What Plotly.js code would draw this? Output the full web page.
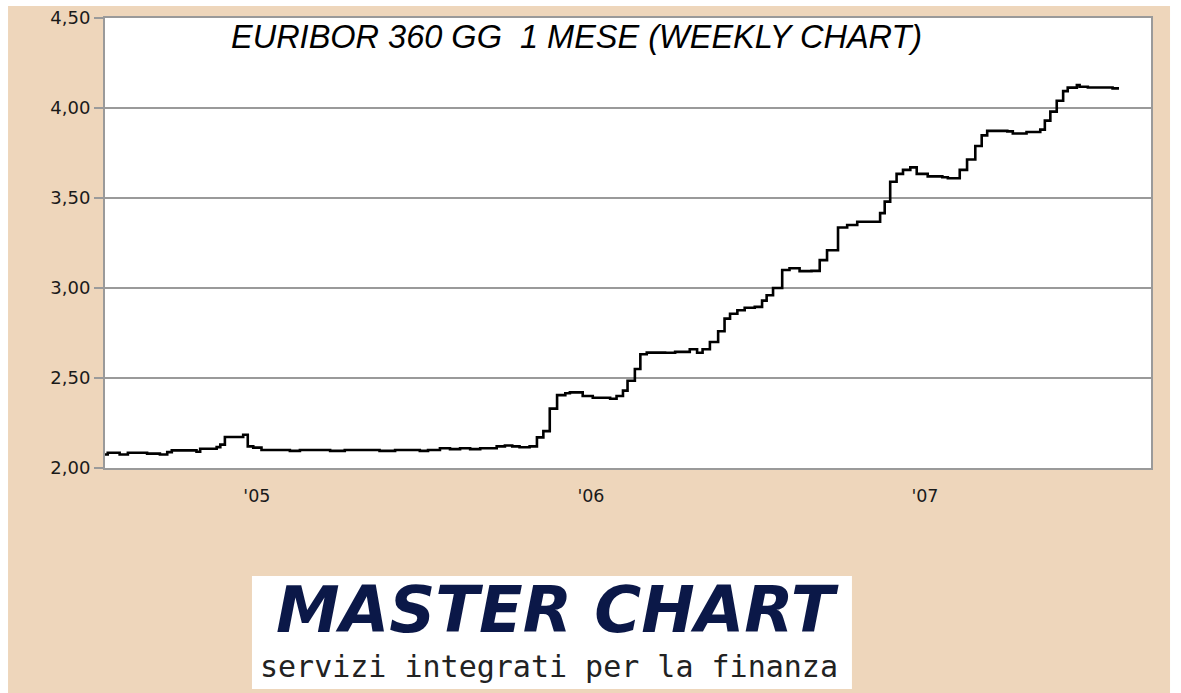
<!DOCTYPE html>
<html>
<head>
<meta charset="utf-8">
<script src="https://cdn.plot.ly/plotly-3.0.1.min.js"></script>
<style>
  html, body { margin: 0; padding: 0; background: #ffffff; }
  #chart { width: 1181px; height: 693px; }
</style>
</head>
<body>
<div id="chart"></div>
<script>
// Weekly Euribor 360gg 1 month — dates where the level changes and the level from that date
var dates = [
  '2004-07-19','2004-07-22','2004-08-04','2004-08-13','2004-09-03','2004-09-17','2004-09-25','2004-09-30',
  '2004-10-27','2004-10-31','2004-11-18','2004-11-22','2004-11-27','2004-12-17','2004-12-22','2004-12-28',
  '2005-01-06','2005-01-12','2005-02-06','2005-02-17','2005-03-22','2005-04-07','2005-05-15','2005-06-01',
  '2005-06-28','2005-07-07','2005-07-20','2005-07-31','2005-08-11','2005-08-22','2005-09-02','2005-09-20',
  '2005-09-29','2005-10-07','2005-10-15','2005-10-26','2005-11-03','2005-11-10','2005-11-17','2005-11-25',
  '2005-12-04','2005-12-09','2005-12-23','2006-01-03','2006-01-22','2006-01-29','2006-02-05','2006-02-10',
  '2006-02-18','2006-02-24','2006-03-03','2006-03-23','2006-04-03','2006-04-19','2006-04-27','2006-05-03',
  '2006-05-11','2006-05-20','2006-05-27','2006-06-02','2006-06-10','2006-06-18','2006-06-29','2006-07-07',
  '2006-07-12','2006-07-19','2006-07-29','2006-08-06','2006-08-17','2006-08-30','2006-09-08','2006-09-16',
  '2006-09-28','2006-10-08','2006-10-19','2006-11-13','2006-11-18','2006-11-24','2006-12-01','2006-12-08',
  '2006-12-16','2006-12-23','2007-01-04','2007-01-20','2007-01-26','2007-02-08','2007-02-16','2007-02-25',
  '2007-03-04','2007-03-10','2007-04-01','2007-04-07','2007-04-22','2007-05-07','2007-05-12','2007-05-18',
  '2007-05-25','2007-06-01','2007-06-06','2007-06-16','2007-06-19','2007-06-28','2007-07-25','2007-08-01'
];
var rates = [
  2.075,2.085,2.075,2.085,2.080,2.075,2.088,2.098,
  2.090,2.107,2.116,2.130,2.172,2.185,2.120,2.113,
  2.100,2.100,2.095,2.100,2.095,2.100,2.095,2.100,
  2.095,2.100,2.110,2.105,2.110,2.105,2.110,2.120,
  2.125,2.120,2.115,2.120,2.170,2.205,2.330,2.405,
  2.415,2.420,2.400,2.390,2.385,2.400,2.430,2.485,
  2.550,2.632,2.641,2.640,2.645,2.660,2.640,2.660,
  2.700,2.760,2.830,2.857,2.876,2.890,2.895,2.930,
  2.960,3.000,3.100,3.110,3.094,3.095,3.155,3.210,
  3.336,3.350,3.368,3.416,3.480,3.590,3.634,3.656,
  3.670,3.634,3.620,3.615,3.610,3.656,3.714,3.789,
  3.848,3.873,3.870,3.858,3.867,3.880,3.930,3.980,
  4.040,4.094,4.113,4.127,4.118,4.114,4.109,4.109
];
var titleText = 'EURIBOR 360 GG  1 MESE (WEEKLY CHART)';
var yTicks = [2.0, 2.5, 3.0, 3.5, 4.0, 4.5];
var xTickDates = ['2005-01-01', '2006-01-01', '2007-01-01'];
var xTickLabels = ["'05", "'06", "'07"];
var logoTitle = 'MASTER CHART';
var logoSubtitle = 'servizi integrati per la finanza';

var trace = {
  x: dates,
  y: rates,
  type: 'scatter',
  mode: 'lines',
  line: { shape: 'hv', color: '#000000', width: 2.6 },
  hoverinfo: 'x+y'
};

var tan = '#EED6BB';
var frame = '#9A9A9A';

var layout = {
  width: 1181,
  height: 693,
  margin: { l: 105, r: 30, t: 18, b: 225 },
  paper_bgcolor: tan,
  plot_bgcolor: '#FFFFFF',
  separators: ',.',
  showlegend: false,
  font: { family: 'DejaVu Sans, Verdana, sans-serif', color: '#1A1A1A', size: 16 },
  xaxis: {
    type: 'date',
    range: ['2004-07-19', '2007-09-05'],
    tickmode: 'array',
    tickvals: xTickDates,
    ticktext: xTickLabels,
    ticks: '',
    showgrid: false,
    zeroline: false,
    showline: true,
    mirror: true,
    linecolor: frame,
    linewidth: 2,
    ticklabelstandoff: 11,
    tickfont: { family: 'DejaVu Sans, Verdana, sans-serif', size: 17.5, color: '#1A1A1A' },
    fixedrange: true
  },
  yaxis: {
    range: [2.0, 4.5],
    tickmode: 'array',
    tickvals: yTicks,
    tickformat: '.2f',
    ticks: 'outside',
    ticklen: 9,
    tickwidth: 1.5,
    tickcolor: frame,
    showgrid: true,
    gridcolor: frame,
    gridwidth: 1.5,
    zeroline: false,
    showline: true,
    mirror: true,
    linecolor: frame,
    linewidth: 2,
    tickfont: { family: 'DejaVu Sans, Verdana, sans-serif', size: 18, color: '#1A1A1A' },
    fixedrange: true
  },
  shapes: [
    // white outer strips (top, left, right) outside the tan sheet
    { type: 'rect', xref: 'paper', yref: 'paper', x0: -0.2, x1: 1.1, y0: 1.0267, y1: 1.1,
      fillcolor: '#FFFFFF', line: { width: 0 }, layer: 'above' },
    { type: 'rect', xref: 'paper', yref: 'paper', x0: -0.2, x1: -0.0927, y0: -0.6, y1: 1.1,
      fillcolor: '#FFFFFF', line: { width: 0 }, layer: 'above' },
    { type: 'rect', xref: 'paper', yref: 'paper', x0: 1.0182, x1: 1.1, y0: -0.6, y1: 1.1,
      fillcolor: '#FFFFFF', line: { width: 0 }, layer: 'above' },
    // logo box
    { type: 'rect', xref: 'paper', yref: 'paper', x0: 0.1405, x1: 0.7141, y0: -0.4911, y1: -0.2400,
      fillcolor: '#FFFFFF', line: { width: 0 }, layer: 'above' }
  ],
  annotations: [
    { text: '<i>' + titleText + '</i>', xref: 'paper', yref: 'paper', x: 0.4503, y: 0.958,
      xanchor: 'center', yanchor: 'middle', showarrow: false,
      font: { family: 'Liberation Sans, Arial, sans-serif', size: 32.5, color: '#000000' } },
    { text: '<b><i>' + logoTitle + '</i></b>', xref: 'paper', yref: 'paper', x: 0.4326, y: -0.3156,
      xanchor: 'center', yanchor: 'middle', showarrow: false,
      font: { family: 'DejaVu Sans, Verdana, sans-serif', size: 64, color: '#0B1848' } },
    { text: logoSubtitle, xref: 'paper', yref: 'paper', x: 0.4245, y: -0.44,
      xanchor: 'center', yanchor: 'middle', showarrow: false,
      font: { family: 'DejaVu Sans Mono, monospace', size: 30, color: '#222222' } }
  ]
};

Plotly.newPlot('chart', [trace], layout, { displayModeBar: false, staticPlot: true });
</script>
</body>
</html>
